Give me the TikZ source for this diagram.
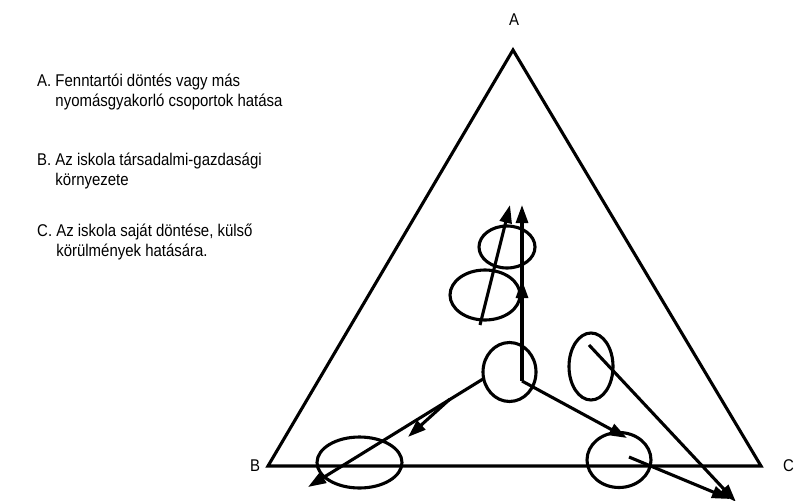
\documentclass[tikz,border=0pt]{standalone}
\usepackage{fontspec}
\setmainfont{Liberation Sans}[FakeStretch=0.88]
\usetikzlibrary{arrows.meta,shapes.geometric}
\begin{document}
\begin{tikzpicture}[x=1pt,y=-1pt,
  ln/.style={line width=3.1pt},
  arr/.style={ln,-{Triangle[length=18pt,width=12pt]}},
  ov/.style={draw,ellipse,line width=3.1pt,inner sep=0pt},
  txt/.style={font=\fontsize{17}{19}\selectfont,anchor=west,inner sep=0pt},
  vlbl/.style={font=\fontsize{17}{19}\selectfont,inner sep=0pt},
]
\useasboundingbox (0,0) rectangle (794,500);
\clip (0,0) rectangle (794,500);
% triangle
\coordinate (vA) at (513,50);
\coordinate (vB) at (268,466);
\coordinate (vC) at (761,466);
\draw[ln,line join=miter] (vA) -- (vB) -- (vC) -- cycle;
\node[vlbl] (lA) at (514,20) {A};
\node[vlbl] (lB) at (255,466) {B};
\node[vlbl,anchor=east] (lC) at (794,466) {C};
% legend
\node[txt] (tA1) at (37,82) {A. Fenntartói döntés vagy más};
\node[txt] (tA2) at (37,102) {\phantom{A. }nyomásgyakorló csoportok hatása};
\node[txt] (tB1) at (37,161) {B. Az iskola társadalmi-gazdasági};
\node[txt] (tB2) at (37,181) {\phantom{B. }környezete};
\node[txt] (tC1) at (37,232) {C. Az iskola saját döntése, külső};
\node[txt] (tC2) at (37,252) {\phantom{C. }körülmények hatására.};
% ellipses
\node[ov,minimum width=53pt,minimum height=59pt] (e0) at (509.5,372) {};
\node[ov,minimum width=56pt,minimum height=42pt] (e1) at (507,247) {};
\node[ov,minimum width=70pt,minimum height=50pt] (e2) at (485,295) {};
\node[ov,minimum width=44pt,minimum height=67pt] (e3) at (591,366.5) {};
\node[ov,minimum width=85pt,minimum height=51pt] (e4) at (359.5,462.5) {};
\node[ov,minimum width=64pt,minimum height=55pt] (e5) at (619,460) {};
% arrow end points
\coordinate (o) at (522,381);
\coordinate (oL) at (483,379);
\coordinate (up) at (522,205);
\coordinate (mid0) at (522,300);
\coordinate (mid1) at (522,280);
\coordinate (s0) at (480,325);
\coordinate (s1) at (510,205);
\coordinate (l1) at (308,487);
\coordinate (sh0) at (450,399);
\coordinate (sh1) at (408,437);
\coordinate (r1) at (627,438);
\coordinate (rb0) at (629,457);
\coordinate (rb1) at (730,499);
\coordinate (rl0) at (589,345);
\coordinate (rl1) at (736,502);
% arrows
\draw[arr] (o) -- (up);
\draw[arr] (mid0) -- (mid1);
\draw[arr] (s0) -- (s1);
\draw[arr] (oL) -- (l1);
\draw[arr] (sh0) -- (sh1);
\draw[arr] (o) -- (r1);
\draw[arr] (rb0) -- (rb1);
\draw[arr] (rl0) -- (rl1);
\end{tikzpicture}
\end{document}
